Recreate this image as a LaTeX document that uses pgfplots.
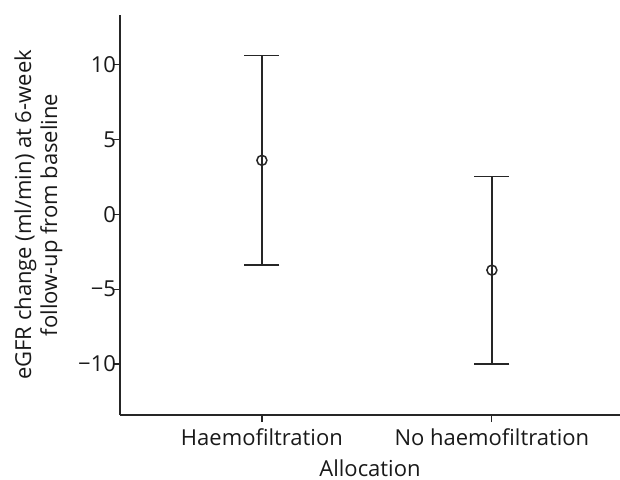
\documentclass[border=0pt]{standalone}
\usepackage{pgfplots}
\pgfplotsset{compat=1.18}
\usepackage{fontspec}
\setmainfont{Open Sans}
\begin{document}
\begin{tikzpicture}
\begin{axis}[
  scale only axis, width=250pt, height=200pt,
  xmin=-0.617, xmax=1.557, ymin=-13.4, ymax=13.3,
  axis x line*=bottom, axis y line*=left,
  xtick={0,1}, xticklabels={Haemofiltration, No haemofiltration},
  ytick={-10,-5,0,5,10},
  yticklabels={−10,−5,0,5,10},
  tick align=outside, major tick length=3.5pt,
  tick style={color=black!85, line width=0.6pt},
  axis line style={color=black!85, line width=0.75pt},
  xlabel={Allocation},
  ylabel={eGFR change (ml/min) at 6-week\\follow-up from baseline},
  ylabel style={align=center, yshift=1pt},
  yticklabel style={xshift=5pt},
  every tick label/.append style={font=\fontsize{11}{13}\selectfont, text=black!90},
  label style={font=\fontsize{11}{13}\selectfont, text=black!90},
  /pgf/number format/assume math mode=true,
  clip=false,
]
\addplot[only marks, mark=o, mark size=2.5pt, line width=0.75pt, color=black!85,
  error bars/.cd, y dir=both, y explicit, error mark=|,
  error bar style={line width=0.75pt, color=black!85},
  error mark options={line width=0.75pt, mark size=8.75pt, color=black!85}]
  coordinates {(0,3.6) += (0,7.0) -= (0,7.0) (1,-3.73) += (0,6.26) -= (0,6.27)};
\end{axis}
\pgfresetboundingbox
\path ([xshift=-60pt,yshift=-32pt]current axis.south west) rectangle ([yshift=7.5pt]current axis.north east);
\end{tikzpicture}
\end{document}
